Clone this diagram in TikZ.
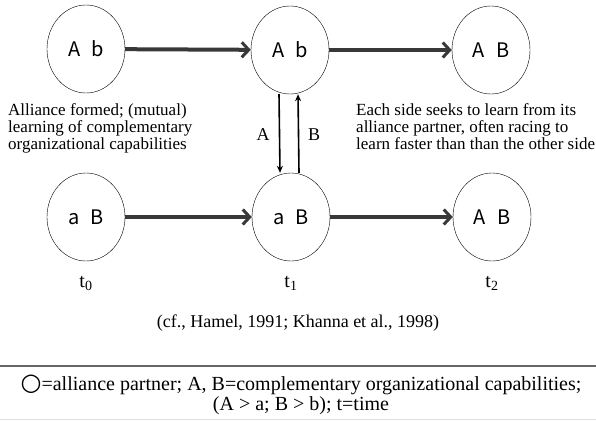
\documentclass[tikz,border=0pt]{standalone}
\usepackage{fontspec}
\setmainfont{Liberation Serif}
\newfontfamily\circfont{Noto Sans CJK SC}
\newfontfamily\symfont{DejaVu Sans}
\usepackage{tikz}
\usetikzlibrary{shapes.geometric,arrows.meta}
\definecolor{arrowgray}{HTML}{383838}

\tikzset{
    partner/.style={ellipse, draw, thin, minimum width=78pt, minimum height=88pt,
        inner sep=0pt, font=\circfont\fontsize{20}{22}\selectfont},
    learn/.style={line width=4pt, arrowgray, -{Straight Barb[length=7pt,width=15pt,line width=3pt]}},
    flow/.style={line width=1.6pt, -{Stealth[length=7pt,width=6pt]}},
    note/.style={align=left, anchor=north west, inner sep=0pt,
        font=\fontsize{17}{17}\selectfont},
    tag/.style={font=\fontsize{18}{20}\selectfont}
}

\begin{document}
\begin{tikzpicture}[x=1pt, y=-1pt]
    % Frame
    \useasboundingbox (0,0) rectangle (596,420);

    % Alliance partners at t0, t1, t2
    \node[partner] (topA) at (86,49)  {A\hspace{0.55em}b};
    \node[partner] (topB) at (290,50) {A\hspace{0.55em}b};
    \node[partner] (topC) at (491,50) {A\hspace{0.55em}B};
    \node[partner] (botA) at (86,217)  {a\hspace{0.55em}B};
    \node[partner] (botB) at (291,217) {a\hspace{0.55em}B};
    \node[partner] (botC) at (492,217) {A\hspace{0.55em}B};

    % Learning over time
    \draw[learn] (topA) -- (topB);
    \draw[learn] (topB) -- (topC);
    \draw[learn] (botA) -- (botB);
    \draw[learn] (botB) -- (botC);

    % Exchange of capabilities
    \draw[flow] ([xshift=-11pt]topB.south) -- ([xshift=-11pt]botB.north);
    \draw[flow] ([xshift=8pt]botB.north) -- ([xshift=8pt]topB.south);
    \node[tag] (labA) at (263,135) {A};
    \node[tag] (labB) at (314,135) {B};

    % Notes
    \node[note] (left) at (8,103) {Alliance formed; (mutual)\\learning of complementary\\organizational capabilities};
    \node[note] (right) at (356,103) {Each side seeks to learn from its\\alliance partner, often racing to\\learn faster than than the other side};

    % Time labels
    \node[tag, font=\fontsize{20}{22}\selectfont] (t0) at (86,283)  {t\textsubscript{0}};
    \node[tag, font=\fontsize{20}{22}\selectfont] (t1) at (291,283) {t\textsubscript{1}};
    \node[tag, font=\fontsize{20}{22}\selectfont] (t2) at (492,283) {t\textsubscript{2}};

    % Source
    \node[tag] (src) at (298,323) {(cf., Hamel, 1991; Khanna et al., 1998)};

    % Legend
    \draw[gray!80!black, line width=1.2pt] (0,366) -- (596,366);
    \node[align=center, inner sep=0pt, font=\fontsize{20}{20}\selectfont] (legend) at (301,395)
        {{\symfont\fontsize{24}{20}\selectfont ○}=alliance partner; A, B=complementary organizational capabilities;\\(A > a; B > b); t=time};
    \draw[gray!25, line width=1pt] (0,419) -- (596,419);
\end{tikzpicture}
\end{document}
